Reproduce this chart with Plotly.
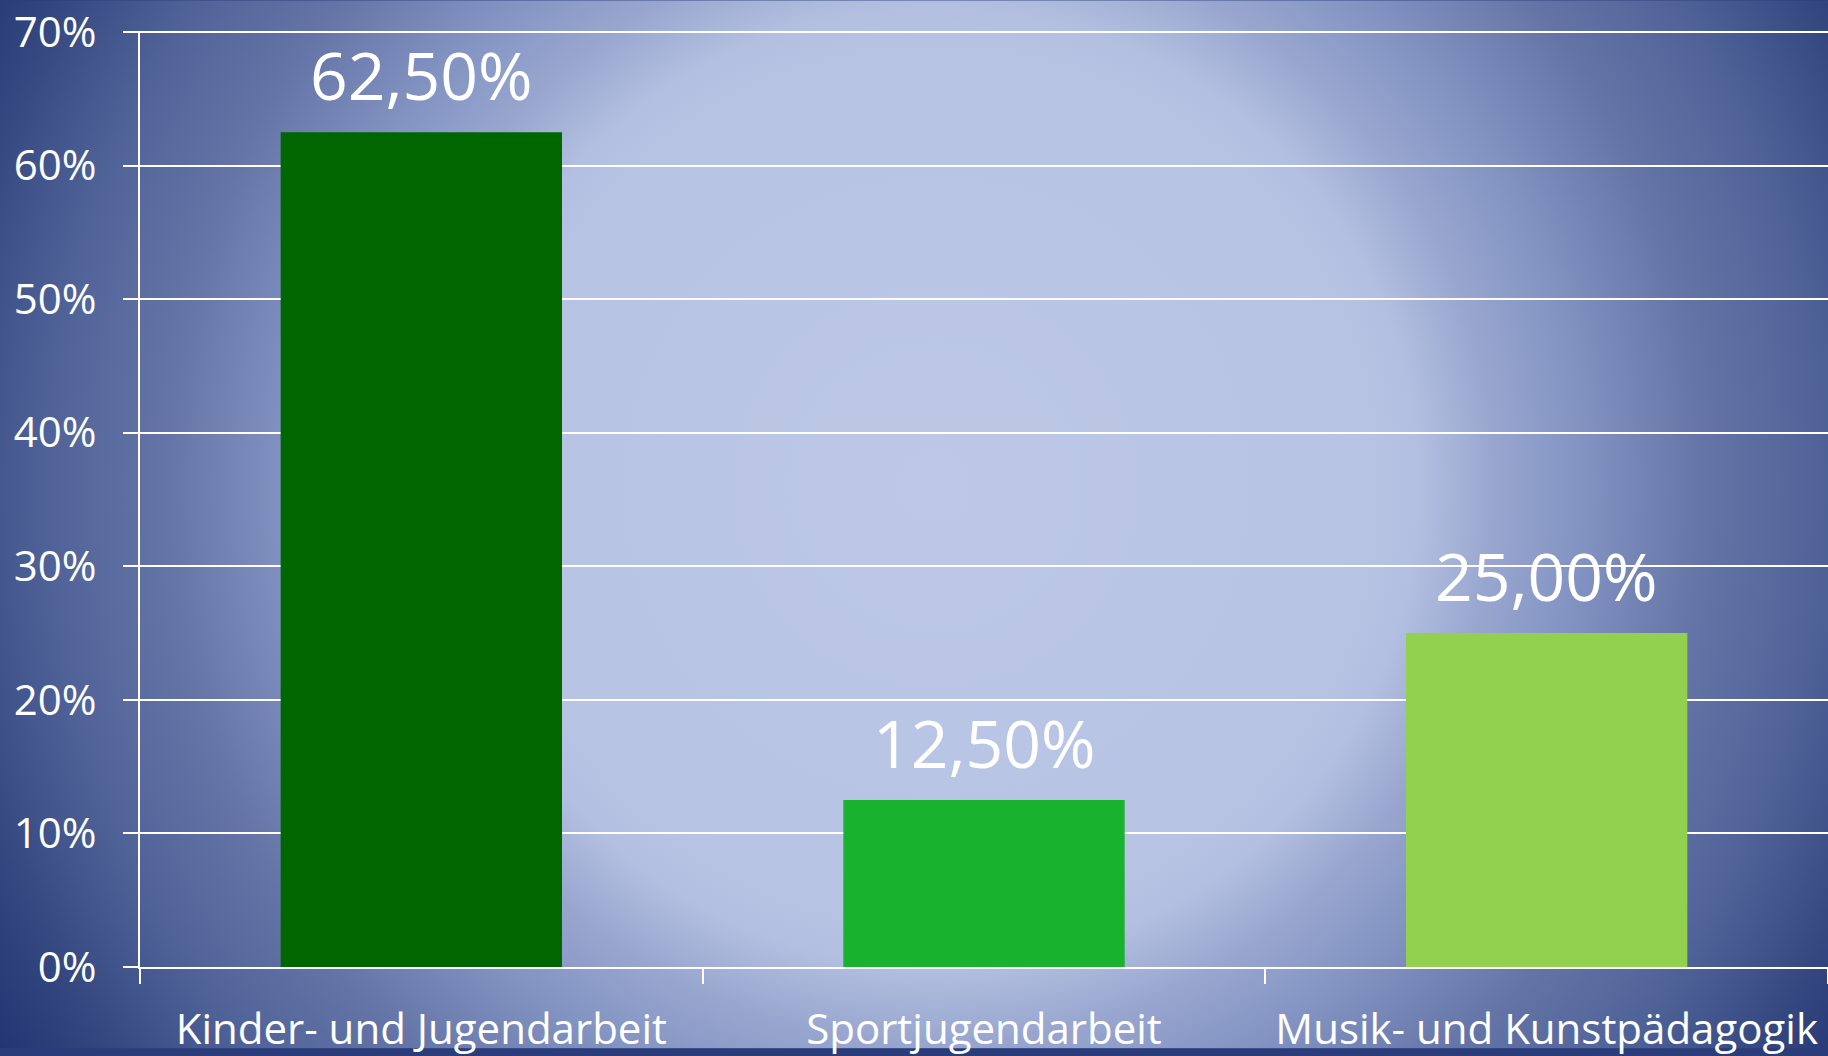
import base64
import plotly.graph_objects as go

categories = ["Kinder- und Jugendarbeit", "Sportjugendarbeit", "Musik- und Kunstpädagogik"]
values = [62.5, 12.5, 25.0]
value_labels = ["62,50%", "12,50%", "25,00%"]
bar_colors = ["#006600", "#19b22e", "#92d050"]
y_tickvals = [0, 10, 20, 30, 40, 50, 60, 70]
y_ticktext = ["0%", "10%", "20%", "30%", "40%", "50%", "60%", "70%"]

W, H = 1828, 1056
ML, MR, MT, MB = 140, 0, 31, 82
PW, PH = W - ML - MR, H - MT - MB

svg = f'''<svg xmlns="http://www.w3.org/2000/svg" width="{W}" height="{H}" viewBox="0 0 {W} {H}">
<defs><radialGradient id="g" gradientUnits="userSpaceOnUse" cx="935" cy="490" r="1100">
<stop offset="0" stop-color="#bdc8e6"/>
<stop offset="0.40" stop-color="#b6c3e3"/>
<stop offset="0.44" stop-color="#b2bfe0"/>
<stop offset="0.51" stop-color="#98a6cf"/>
<stop offset="0.59" stop-color="#8293c2"/>
<stop offset="0.70" stop-color="#6474a6"/>
<stop offset="0.81" stop-color="#4f6298"/>
<stop offset="0.91" stop-color="#34477f"/>
<stop offset="1" stop-color="#223473"/>
</radialGradient></defs>
<rect x="0" y="0" width="{W}" height="{H}" fill="url(#g)"/></svg>'''
src = "data:image/svg+xml;base64," + base64.b64encode(svg.encode()).decode()

fig = go.Figure()
fig.add_trace(go.Bar(x=categories, y=values, marker=dict(color=bar_colors, line=dict(width=0)),
                     width=0.5, hoverinfo="skip"))

for c, v, t in zip(categories, values, value_labels):
    fig.add_annotation(x=c, y=v, text=t, showarrow=False, yanchor="bottom", yshift=11,
                       font=dict(family="Open Sans", size=66, color="white"))

fig.add_layout_image(dict(source=src, xref="paper", yref="paper",
                          x=-ML / PW, y=1 + MT / PH, sizex=W / PW, sizey=H / PH,
                          xanchor="left", yanchor="top", sizing="stretch", layer="below"))

fig.update_layout(
    width=W, height=H,
    margin=dict(l=ML, r=MR, t=MT, b=MB, pad=0),
    paper_bgcolor="#2a3c7a", plot_bgcolor="rgba(0,0,0,0)",
    showlegend=False,
    font=dict(family="Open Sans", color="white"),
    xaxis=dict(type="category", tickson="boundaries", ticks="outside", ticklen=15,
               tickwidth=2, tickcolor="white", showline=True, linecolor="white", linewidth=2,
               showgrid=False, tickfont=dict(size=42, color="white"), ticklabelstandoff=25,
               fixedrange=True),
    yaxis=dict(range=[0, 70.08], tickvals=y_tickvals, ticktext=y_ticktext, ticks="outside",
               ticklen=15, tickwidth=2, tickcolor="white", showline=True, linecolor="white",
               linewidth=2, showgrid=True, gridcolor="white", gridwidth=2, zeroline=False,
               tickfont=dict(size=42, color="white"), ticklabelstandoff=18, fixedrange=True),
)

fig.write_html("out.html", config={"displayModeBar": False},
               post_script="document.body.style.margin='0';document.body.style.overflow='hidden';")
